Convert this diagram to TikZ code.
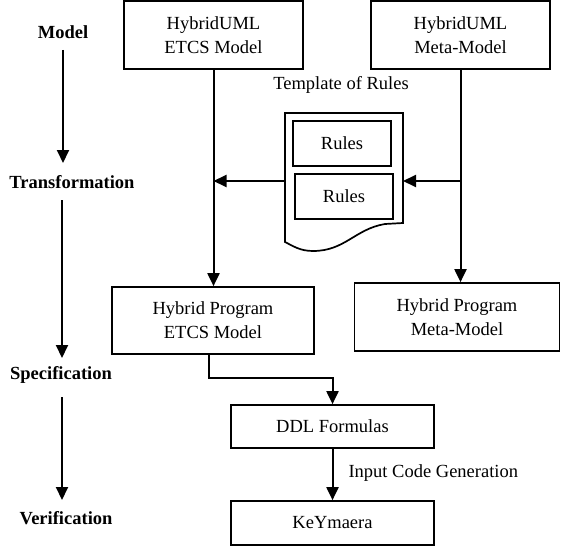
\documentclass[tikz,border=0pt]{standalone}
\usepackage{fontspec}
\setmainfont{Liberation Serif}
\usepackage{tikz}
\usetikzlibrary{arrows.meta}

\tikzset{
  box/.style={draw,line width=1.7pt,align=center,inner sep=0pt},
  flow/.style={->,>={Triangle[width=12pt,length=13pt]},line width=2pt},
  stage/.style={font=\fontsize{18.5}{24}\selectfont\bfseries,inner sep=2pt}
}

\begin{document}
\begin{tikzpicture}[x=1pt,y=-1pt,every node/.style={font=\fontsize{18.5}{24}\selectfont}]
\useasboundingbox (0,0) rectangle (561,548);
% stages on the left
\node[stage] (model) at (63,32) {Model};
\node[stage] (trans) at (72,182) {Transformation};
\node[stage] (spec) at (61,375) {Specification};
\node[stage] (verif) at (66,518) {Verification};
\draw[flow] (63,50)--(63,163);
\draw[flow] (62,200)--(62,358);
\draw[flow] (62,397)--(62,500);
% models
\node[box,minimum width=179pt,minimum height=68pt] (umlETCS) at (213.5,35) {HybridUML\\ETCS Model};
\node[box,minimum width=179pt,minimum height=68pt] (umlMeta) at (460.5,35) {HybridUML\\Meta-Model};
\node[box,minimum width=202pt,minimum height=67pt] (hpETCS) at (213,320.5) {Hybrid Program\\ETCS Model};
\node[box,minimum width=205pt,minimum height=68pt] (hpMeta) at (457,317) {Hybrid Program\\Meta-Model};
\node[box,minimum width=203pt,minimum height=43pt] (ddl) at (332.5,426.5) {DDL Formulas};
\node[box,minimum width=203pt,minimum height=44pt] (keym) at (332.5,523) {KeYmaera};
% template document with the rules
\node (tmpl) at (341,85) {Template of Rules};
\draw[line width=1.7pt] (285,113)--(403,113)--(403,223)--(385,224)
  .. controls (355,229) and (345,251) .. (313,251)
  .. controls (300,251) and (293,246) .. (285,242)--cycle;
\node[box,minimum width=98pt,minimum height=45pt] (rulesA) at (342,143.5) {Rules};
\node[box,minimum width=98pt,minimum height=45pt] (rulesB) at (344,196.5) {Rules};
\coordinate (docL) at (285,181);
\coordinate (docR) at (403,181);
% connectors
\draw[flow] (umlETCS.south)--(umlETCS.south |- hpETCS.north);
\draw[flow] (umlMeta.south)--(umlMeta.south |- hpMeta.north);
\draw[flow] (umlMeta.south |- docR)--(docR);
\draw[flow] (docL)--(docL -| umlETCS.south);
\draw[flow] ([xshift=-4pt]hpETCS.south)--++(0,23) -| (ddl.north);
\draw[flow] (ddl)--(keym);
\node[anchor=west] (gen) at (345,473) {Input Code Generation};
\end{tikzpicture}
\end{document}
